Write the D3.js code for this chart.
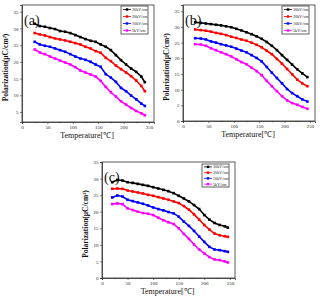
<!DOCTYPE html>
<html><head><meta charset="utf-8">
<script src="https://cdn.jsdelivr.net/npm/d3@7"></script>
<style>
html,body{margin:0;padding:0;background:#fff;}
svg{display:block;}
text{font-family:"Liberation Serif","Times New Roman",serif;}
</style></head>
<body>
<svg id="chart" width="320" height="302"></svg>
<script>
// ---------- data ----------
const seriesNames = ["30kV/cm", "20kV/cm", "10kV/cm", "5kV/cm"];
const seriesColors = ["#000000", "#ff0000", "#0000ff", "#ff00ff"];
const panelLabels = ["(a)", "(b)", "(c)"];
const xTicks = [0, 50, 100, 150, 200, 250];
const yTicks = [0, 5, 10, 15, 20, 25, 30, 35];

const tempA = [25,35,45,55,65,75,85,95,105,115,125,135,145,155,165,175,185,195,205,215,225,235,242];
const a30 = [31.4,30.7,30.5,30.1,29.8,29.2,29.0,28.6,28.0,27.4,26.8,26.3,26.0,25.2,24.5,23.5,22.0,20.5,19.2,18.0,17.0,15.6,13.9];
const a20 = [28.6,28.2,27.9,27.4,27.0,26.7,26.4,26.0,25.6,25.2,24.5,24.0,23.2,22.7,21.2,20.2,18.9,17.8,16.8,15.7,14.4,12.8,11.2];
const a10 = [26.0,25.2,24.8,24.5,24.0,23.5,23.0,22.3,21.6,21.0,20.6,20.0,19.2,18.5,16.3,15.3,14.0,12.2,11.2,9.9,8.8,7.5,6.8];
const a5  = [23.7,22.8,22.3,21.6,21.0,20.4,19.8,19.2,18.4,17.4,16.8,16.2,15.6,14.3,12.5,10.9,9.6,8.2,7.2,6.2,5.3,4.6,4.0];

const tempB = [24,35,45,55,65,75,85,95,105,115,125,135,145,155,165,175,185,195,205,215,225,235,245];
const b30 = [31.5,31.3,31.1,30.9,30.7,30.5,30.2,29.9,29.4,28.9,28.3,27.7,27.0,26.2,25.2,24.0,22.6,21.0,19.5,18.0,16.5,15.2,14.0];
const b20 = [29.2,29.0,28.8,28.5,28.1,27.8,27.4,26.9,26.5,26.0,25.6,25.0,24.3,23.5,22.4,21.3,19.8,18.3,16.6,14.9,13.2,12.0,11.1];
const b10 = [26.4,26.3,26.0,25.4,25.0,24.5,24.1,23.7,23.1,22.5,21.9,21.0,20.1,19.0,17.2,15.4,13.7,12.0,10.2,8.9,7.9,6.9,6.2];
const b5  = [24.5,24.4,24.0,23.2,22.6,21.9,21.3,20.6,19.7,18.8,18.1,17.0,15.9,14.6,12.8,11.1,9.5,7.9,6.6,5.7,5.2,4.5,3.9];

const tempC = [20,30,40,50,60,70,80,90,100,110,120,130,140,150,160,170,180,190,200,210,220,230,240,246];
const c30 = [28.9,29.6,29.4,28.9,28.7,28.4,28.1,27.8,27.4,27.0,26.6,26.2,25.6,24.8,24.0,23.1,22.0,20.8,19.0,17.6,16.6,16.0,15.6,15.2];
const c20 = [26.9,27.0,26.9,26.4,26.1,25.8,25.5,25.1,24.8,24.4,24.0,23.6,23.1,22.6,21.7,20.6,19.2,17.6,16.0,14.6,13.4,12.9,12.6,12.4];
const c10 = [24.3,24.9,24.6,23.6,23.2,22.8,22.4,21.9,21.3,20.8,20.4,19.9,19.5,18.5,17.0,15.7,14.2,12.5,10.9,9.4,8.6,8.4,8.1,7.9];
const c5  = [22.3,22.5,22.3,21.0,20.5,20.0,19.6,19.4,19.0,18.2,17.4,16.8,16.3,15.0,13.3,11.8,10.1,8.6,7.4,6.3,5.6,5.4,5.0,4.7];

// ---------- layout ----------
const panels = [
  {label: panelLabels[0], temps: tempA, series: [a30,a20,a10,a5], box:{l:22,r:154,t:5,b:122}, yDom:[2,37], yTicks: yTicks.filter(v=>v>=5), legend:{x:121,y:6,w:27,h:28}},
  {label: panelLabels[1], temps: tempB, series: [b30,b20,b10,b5], box:{l:183,r:315,t:5,b:121}, yDom:[0,37], yTicks: yTicks, legend:{x:282,y:6,w:27,h:28}},
  {label: panelLabels[2], temps: tempC, series: [c30,c20,c10,c5], box:{l:102,r:235,t:162,b:278}, yDom:[0,35], yTicks: yTicks, legend:{x:202,y:164,w:27,h:23}}
];

const svg = d3.select("#chart");

panels.forEach(p => {
  const x = d3.scaleLinear().domain([0,260]).range([p.box.l, p.box.r]);
  const y = d3.scaleLinear().domain(p.yDom).range([p.box.b, p.box.t]);
  const g = svg.append("g");

  // frame
  g.append("rect").attr("x",p.box.l).attr("y",p.box.t)
    .attr("width",p.box.r-p.box.l).attr("height",p.box.b-p.box.t)
    .attr("fill","none").attr("stroke","#333").attr("stroke-width",0.8);

  // axes
  const xa = g.append("g").attr("transform",`translate(0,${p.box.b})`)
    .call(d3.axisBottom(x).tickValues(xTicks).tickSize(2).tickPadding(1.5));
  g.append("g").attr("transform",`translate(0,${p.box.b})`)
    .call(d3.axisBottom(x).tickValues(d3.range(25,260,50)).tickSize(1.2).tickFormat(""))
    .call(s=>s.select(".domain").remove());
  const ya = g.append("g").attr("transform",`translate(${p.box.l},0)`)
    .call(d3.axisLeft(y).tickValues(p.yTicks).tickSize(2).tickPadding(1.5));
  [xa,ya].forEach(a=>{
    a.select(".domain").attr("stroke","#333").attr("stroke-width",0.8);
    a.selectAll("text").attr("font-size",5).attr("fill","#222")
      .style("font-family","'Liberation Serif',serif");
  });
  g.selectAll(".tick line").attr("stroke","#333").attr("stroke-width",0.6);

  // axis titles
  g.append("text").attr("x",(p.box.l+p.box.r)/2-1).attr("y",p.box.b+16)
    .attr("text-anchor","middle").attr("font-size",8).attr("fill","#111")
    .text("Temperature[℃]");
  const cy = (p.box.t+p.box.b)/2+4;
  g.append("text").attr("transform",`translate(${p.box.l-14.5},${cy}) rotate(-90)`)
    .attr("text-anchor","middle").attr("font-size",7.5).attr("font-weight","bold").attr("fill","#111")
    .text("Polarization(μC/cm²)");

  // series
  p.series.forEach((vals,i)=>{
    const pts = p.temps.map((t,k)=>[t,vals[k]]);
    g.append("path").datum(pts)
      .attr("d", d3.line().x(d=>x(d[0])).y(d=>y(d[1])))
      .attr("fill","none").attr("stroke",seriesColors[i]).attr("stroke-width",1.6);
    g.selectAll(null).data(pts).enter().append("rect")
      .attr("x",d=>x(d[0])-1.3).attr("y",d=>y(d[1])-1.3)
      .attr("width",2.6).attr("height",2.6).attr("fill",seriesColors[i]);
  });

  // panel label
  g.append("text").attr("x",p.box.l+2).attr("y",p.box.t+20)
    .attr("font-size",14).attr("fill","#111").text(p.label);

  // legend
  const L = p.legend;
  g.append("rect").attr("x",L.x).attr("y",L.y).attr("width",L.w).attr("height",L.h)
    .attr("fill","#fff").attr("stroke","#222").attr("stroke-width",0.7);
  const step = L.h/4;
  seriesNames.forEach((n,i)=>{
    const yy = L.y + step*(i+0.5);
    g.append("line").attr("x1",L.x+2).attr("x2",L.x+10).attr("y1",yy).attr("y2",yy)
      .attr("stroke",seriesColors[i]).attr("stroke-width",0.8);
    g.append("rect").attr("x",L.x+4.8).attr("y",yy-1.2).attr("width",2.4).attr("height",2.4)
      .attr("fill",seriesColors[i]);
    g.append("text").attr("x",L.x+11).attr("y",yy+1.5).attr("font-size",4.2).attr("fill","#222").text(n);
  });
});
</script>
</body></html>
